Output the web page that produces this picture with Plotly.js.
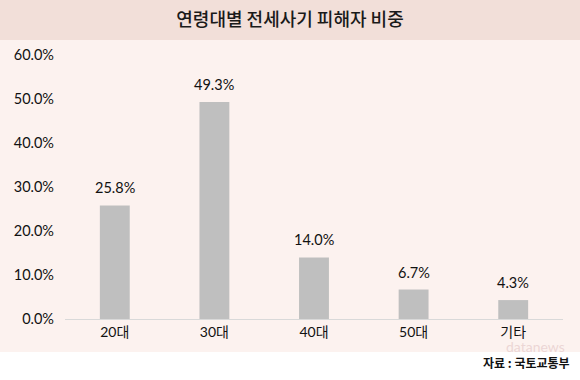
<!DOCTYPE html>
<html>
<head>
<meta charset="utf-8">
<script src="https://cdn.plot.ly/plotly-3.0.1.min.js"></script>
<style>html,body{margin:0;padding:0;background:#fff;}#chart{width:580px;height:380px;}</style>
</head>
<body>
<div id="chart"></div>
<script>
var categories = ['20대', '30대', '40대', '50대', '기타'];
var shares = [25.8, 49.3, 14.0, 6.7, 4.3];
var tickValues = [0, 10, 20, 30, 40, 50, 60];
var tickLabels = ['0.0%', '10.0%', '20.0%', '30.0%', '40.0%', '50.0%', '60.0%'];
var titleText = '연령대별 전세사기 피해자 비중';
var sourceText = '자료 : 국토교통부';

var FONT = "Lato, 'Noto Sans CJK KR', sans-serif";

var trace = {
  type: 'bar',
  x: categories,
  y: shares,
  width: 0.3,
  marker: {color: '#bfbfbf'},
  hoverinfo: 'none'
};

var annotations = categories.map(function (c, i) {
  return {
    x: c, y: shares[i], xref: 'x', yref: 'y',
    text: shares[i].toFixed(1) + '%',
    showarrow: false, yanchor: 'bottom', yshift: 7,
    font: {family: FONT, size: 14.5, color: '#111'}
  };
});
annotations.push({
  x: 1.019, y: -0.165, xref: 'paper', yref: 'paper',
  xanchor: 'right', yanchor: 'middle',
  text: '<b>' + sourceText + '</b>', showarrow: false,
  font: {family: "'Noto Sans CJK KR', sans-serif", size: 12, color: '#111'}
});
annotations.push({
  x: 0.944, y: -0.106, xref: 'paper', yref: 'paper',
  xanchor: 'center', yanchor: 'middle',
  text: 'datanews', showarrow: false,
  font: {family: FONT, size: 14, color: 'rgba(225,195,195,0.6)'}
});

var layout = {
  width: 580, height: 380,
  margin: {l: 65, r: 17, t: 55, b: 61},
  paper_bgcolor: '#ffffff',
  plot_bgcolor: 'rgba(0,0,0,0)',
  showlegend: false,
  title: {
    text: titleText,
    x: 0.5, xref: 'container', xanchor: 'center',
    y: 0.947, yref: 'container', yanchor: 'middle',
    font: {family: "'Noto Sans CJK KR', sans-serif", size: 18, color: '#1a1a1a', weight: 500}
  },
  xaxis: {
    type: 'category',
    showline: true, linecolor: '#d9d9d9', linewidth: 1,
    ticks: '', showgrid: false,
    tickfont: {family: FONT, size: 14, color: '#111'}
  },
  yaxis: {
    range: [0, 60],
    tickvals: tickValues, ticktext: tickLabels,
    showgrid: false, zeroline: false, showline: false, ticks: '',
    ticklabelstandoff: 10,
    tickfont: {family: FONT, size: 14.5, color: '#111'}
  },
  shapes: [
    {type: 'rect', xref: 'paper', yref: 'paper', layer: 'below',
     x0: -0.2, x1: 1.2, y0: -0.125, y1: 1.0568,
     fillcolor: '#fcf2ef', line: {width: 0}},
    {type: 'rect', xref: 'paper', yref: 'paper', layer: 'below',
     x0: -0.2, x1: 1.2, y0: 1.0568, y1: 1.3,
     fillcolor: '#f2dfd9', line: {width: 0}}
  ],
  annotations: annotations
};

Plotly.newPlot('chart', [trace], layout, {staticPlot: true, displayModeBar: false});
</script>
</body>
</html>
